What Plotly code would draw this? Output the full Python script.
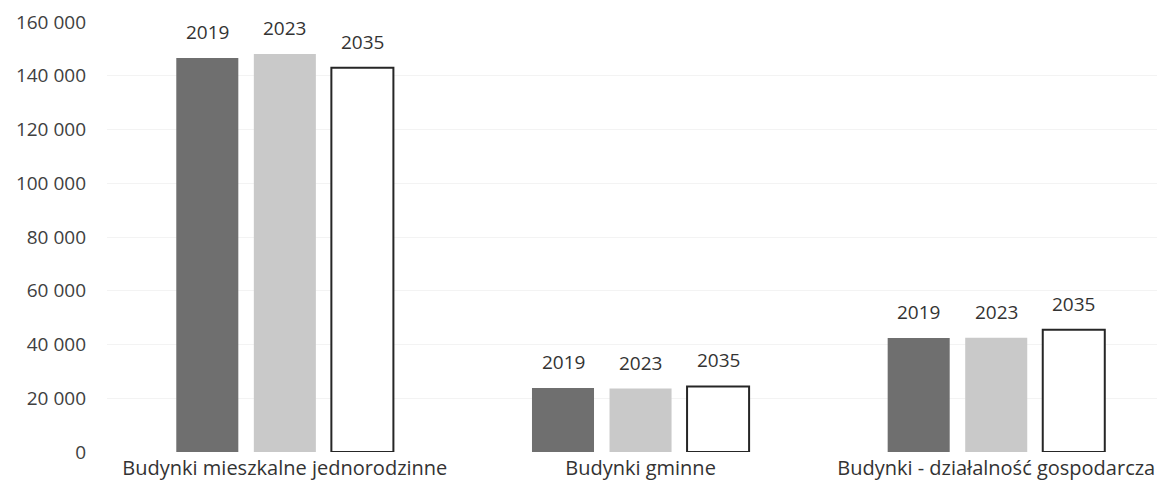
import plotly.graph_objects as go

categories = [
    "Budynki mieszkalne jednorodzinne",
    "Budynki gminne",
    "Budynki - działalność gospodarcza",
]
years = ["2019", "2023", "2035"]
values_2019 = [146600, 23800, 42400]
values_2023 = [148100, 23600, 42500]
values_2035 = [143000, 24400, 45500]
y_ticks = [0, 20000, 40000, 60000, 80000, 100000, 120000, 140000, 160000]

series = [values_2019, values_2023, values_2035]
fills = ["#6f6f6f", "#c9c9c9", "#ffffff"]
edges = ["#6f6f6f", "#c9c9c9", "#262626"]
edge_widths = [0, 0, 2]

FONT = "Open Sans"

fig = go.Figure()
for name, vals, fill, edge, lw in zip(years, series, fills, edges, edge_widths):
    fig.add_trace(go.Bar(
        x=categories, y=vals, name=name,
        marker=dict(color=fill, line=dict(color=edge, width=lw)),
        hoverinfo="skip",
    ))

# year labels above every bar, shifted sideways to sit on their group slot
slot_px = 77.5
for i, (name, vals) in enumerate(zip(years, series)):
    for cat, v in zip(categories, vals):
        fig.add_annotation(
            x=cat, y=v, xref="x", yref="y",
            text=name, showarrow=False,
            xshift=(i - 1) * slot_px, yshift=26, yanchor="middle",
            font=dict(family=FONT, size=19, color="#333333"),
        )

fig.update_layout(
    width=1157, height=488,
    margin=dict(l=107, r=0, t=22, b=36),
    paper_bgcolor="white", plot_bgcolor="white",
    barmode="group", bargap=0.346, bargroupgap=0.2,
    showlegend=False,
    separators=", ",
    font=dict(family=FONT, color="#404040"),
    xaxis=dict(
        range=[-0.5, 2.452], showgrid=False, showline=False, ticks="",
        tickfont=dict(family=FONT, size=20, color="#333333"),
        ticklabelstandoff=2,
    ),
    yaxis=dict(
        range=[0, 160000], tickvals=y_ticks, tickformat=",d",
        showgrid=True, gridcolor="#f3f3f3", gridwidth=1,
        zeroline=False, showline=False, ticks="",
        tickfont=dict(family=FONT, size=19, color="#404040"),
        ticklabelstandoff=20,
    ),
)

fig.write_html("out.html")
